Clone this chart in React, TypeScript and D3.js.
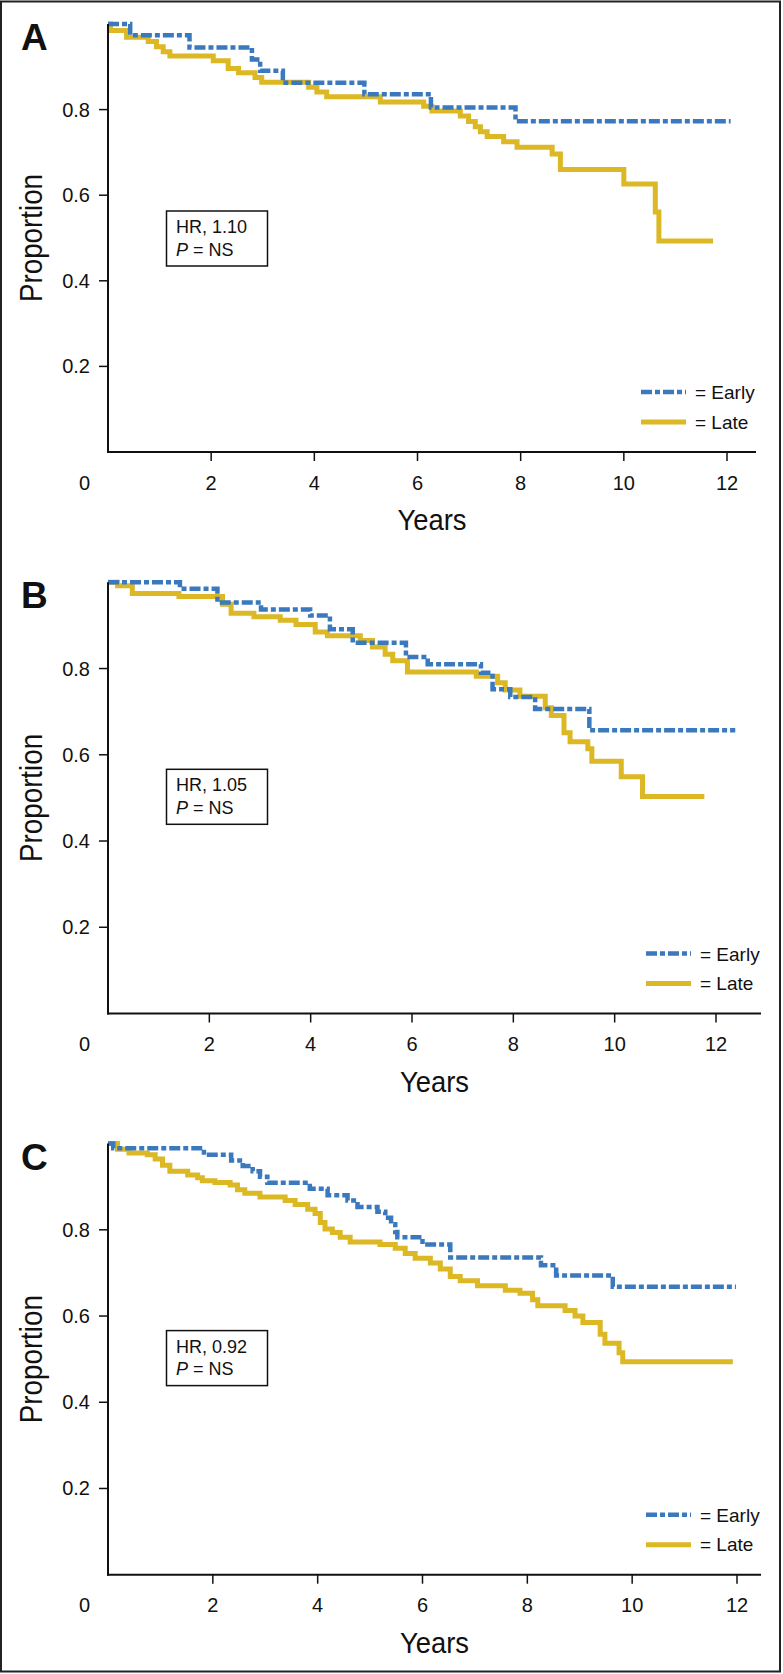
import React from "react";
import * as d3 from "d3";

// ---------- data (Kaplan–Meier step points: [years, proportion]) ----------
const earlyA: [number, number][] = [
  [0, 1], [0.43, 0.974], [1.58, 0.945], [2.79, 0.917], [2.95, 0.891], [3.39, 0.863],
  [4.97, 0.836], [6.26, 0.805], [7.9, 0.773], [12.07, 0.773],
];
const lateA: [number, number][] = [
  [0, 1], [0.05, 0.985], [0.36, 0.969], [0.78, 0.959], [0.94, 0.947], [1.07, 0.935],
  [1.2, 0.925], [2.04, 0.914], [2.33, 0.896], [2.53, 0.886], [2.85, 0.875], [2.98, 0.864],
  [3.89, 0.852], [4.05, 0.841], [4.24, 0.83], [5.28, 0.818], [6.12, 0.808], [6.28, 0.797],
  [6.83, 0.785], [6.99, 0.772], [7.12, 0.76], [7.22, 0.748], [7.35, 0.737], [7.67, 0.725],
  [7.93, 0.712], [8.61, 0.696], [8.77, 0.66], [10.0, 0.626], [10.61, 0.561], [10.68, 0.493],
  [11.73, 0.493],
];
const earlyB: [number, number][] = [
  [0, 1], [1.42, 0.985], [2.16, 0.953], [3.02, 0.937], [3.99, 0.923], [4.38, 0.891],
  [4.83, 0.86], [5.88, 0.827], [6.31, 0.81], [7.36, 0.79], [7.59, 0.752], [7.94, 0.734],
  [8.43, 0.706], [9.5, 0.657], [12.38, 0.657],
];
const lateB: [number, number][] = [
  [0, 1], [0.19, 0.992], [0.48, 0.974], [1.4, 0.967], [2.26, 0.949], [2.43, 0.928],
  [2.88, 0.92], [3.4, 0.912], [3.71, 0.902], [4.09, 0.885], [4.33, 0.876], [4.98, 0.865],
  [5.22, 0.85], [5.47, 0.833], [5.62, 0.818], [5.91, 0.792], [7.27, 0.782], [7.69, 0.767],
  [7.84, 0.75], [8.13, 0.736], [8.63, 0.709], [8.75, 0.691], [9.0, 0.651], [9.12, 0.63],
  [9.47, 0.614], [9.55, 0.585], [10.13, 0.549], [10.55, 0.503], [11.77, 0.503],
];
const earlyC: [number, number][] = [
  [0, 1], [0.1, 0.989], [1.83, 0.974], [2.35, 0.961], [2.57, 0.948], [2.76, 0.936],
  [2.9, 0.923], [3.04, 0.909], [3.85, 0.895], [4.19, 0.88], [4.57, 0.868], [4.76, 0.853],
  [5.14, 0.842], [5.29, 0.828], [5.4, 0.813], [5.48, 0.795], [5.52, 0.783], [6.0, 0.766],
  [6.53, 0.736], [8.26, 0.718], [8.55, 0.694], [9.63, 0.668], [11.98, 0.668],
];
const lateC: [number, number][] = [
  [0, 1], [0.18, 0.987], [0.4, 0.978], [0.75, 0.974], [0.9, 0.964], [1.04, 0.95],
  [1.18, 0.936], [1.52, 0.927], [1.71, 0.921], [1.8, 0.914], [2.04, 0.91], [2.33, 0.904],
  [2.47, 0.893], [2.61, 0.885], [2.9, 0.876], [3.38, 0.868], [3.57, 0.859], [3.81, 0.848],
  [3.95, 0.838], [4.05, 0.817], [4.14, 0.802], [4.28, 0.794], [4.43, 0.783], [4.62, 0.772],
  [5.19, 0.766], [5.48, 0.757], [5.67, 0.745], [5.86, 0.734], [6.15, 0.723], [6.34, 0.709],
  [6.53, 0.692], [6.72, 0.682], [7.05, 0.67], [7.58, 0.66], [7.86, 0.653], [8.1, 0.638],
  [8.2, 0.624], [8.72, 0.613], [8.91, 0.6], [9.06, 0.585], [9.39, 0.558], [9.48, 0.537],
  [9.75, 0.515], [9.82, 0.494], [11.92, 0.494],
];

const xTicks = [2, 4, 6, 8, 10, 12];
const yTicks = [0.2, 0.4, 0.6, 0.8];
const hrLabels = ["HR, 1.10", "HR, 1.05", "HR, 0.92"];
const panelLetters = ["A", "B", "C"];
const seriesNames = ["= Early", "= Late"];

// ---------- layout ----------
const W = 783;
const H = 1674;
const BLUE = "#3a79bd";
const YELLOW = "#dcb824";
const FONT = "'Liberation Sans', Arial, Helvetica, sans-serif";

const panels = [
  { x0: 108, x12: 727, xEnd: 756, yTop: 24, yBottom: 452, early: earlyA, late: lateA },
  { x0: 108, x12: 716, xEnd: 761, yTop: 582.3, yBottom: 1013.5, early: earlyB, late: lateB },
  { x0: 108, x12: 737, xEnd: 761, yTop: 1143.6, yBottom: 1574.7, early: earlyC, late: lateC },
];

function Panel({ idx }: { idx: number }) {
  const p = panels[idx];
  const x = d3.scaleLinear().domain([0, 12]).range([p.x0, p.x12]);
  const y = d3.scaleLinear().domain([0, 1]).range([p.yBottom, p.yTop]);
  const line = d3
    .line<[number, number]>()
    .x((d) => x(d[0]))
    .y((d) => y(d[1]))
    .curve(d3.curveStepAfter);
  const boxTop = p.yTop + 187;
  const midX = (p.x0 + p.xEnd) / 2;
  const midY = (p.yTop + p.yBottom) / 2;
  const legX = p.xEnd - 115;
  return (
    <g>
      {/* panel letter */}
      <text x={21} y={p.yTop + 26} fontFamily={FONT} fontWeight="bold" fontSize={37} fill="#111">
        {panelLetters[idx]}
      </text>
      {/* curves */}
      <path d={line(p.late) || ""} fill="none" stroke={YELLOW} strokeWidth={5} />
      <path
        d={line(p.early) || ""}
        fill="none"
        stroke={BLUE}
        strokeWidth={4.5}
        strokeDasharray="11,3,5,3"
      />
      {/* axes */}
      <line x1={p.x0} x2={p.x0} y1={y(1)} y2={p.yBottom + 1} stroke="#111" strokeWidth={2} />
      <line x1={p.x0 - 1} x2={p.xEnd} y1={p.yBottom} y2={p.yBottom} stroke="#111" strokeWidth={2} />
      {yTicks.map((t) => (
        <g key={"y" + t}>
          <line x1={p.x0 - 9} x2={p.x0} y1={y(t)} y2={y(t)} stroke="#111" strokeWidth={1.5} />
          <text x={90} y={y(t) + 7} textAnchor="end" fontFamily={FONT} fontSize={20} fill="#111">
            {t.toFixed(1)}
          </text>
        </g>
      ))}
      {xTicks.map((t) => (
        <g key={"x" + t}>
          <line x1={x(t)} x2={x(t)} y1={p.yBottom} y2={p.yBottom + 9} stroke="#111" strokeWidth={1.5} />
          <text x={x(t)} y={p.yBottom + 37.5} textAnchor="middle" fontFamily={FONT} fontSize={20} fill="#111">
            {t}
          </text>
        </g>
      ))}
      <text x={84.5} y={p.yBottom + 37.5} textAnchor="middle" fontFamily={FONT} fontSize={20} fill="#111">
        0
      </text>
      {/* axis titles */}
      <text
        x={midX}
        y={p.yBottom + 78}
        textAnchor="middle"
        fontFamily={FONT}
        fontSize={30}
        textLength={69}
        lengthAdjust="spacingAndGlyphs"
        fill="#111"
      >
        Years
      </text>
      <text
        transform={`translate(42,${midY}) rotate(-90)`}
        textAnchor="middle"
        fontFamily={FONT}
        fontSize={31}
        textLength={128}
        lengthAdjust="spacingAndGlyphs"
        fill="#111"
      >
        Proportion
      </text>
      {/* HR box */}
      <rect x={166.5} y={boxTop} width={101} height={55} fill="#fff" stroke="#111" strokeWidth={1.5} />
      <text x={176} y={boxTop + 22} fontFamily={FONT} fontSize={18} fill="#111">
        {hrLabels[idx]}
      </text>
      <text x={176} y={boxTop + 44.5} fontFamily={FONT} fontSize={18} fill="#111">
        <tspan fontStyle="italic">P</tspan>
        <tspan> = NS</tspan>
      </text>
      {/* legend */}
      <line
        x1={legX}
        x2={legX + 45}
        y1={p.yBottom - 60}
        y2={p.yBottom - 60}
        stroke={BLUE}
        strokeWidth={4.5}
        strokeDasharray="11,3,5,3"
      />
      <text x={legX + 54} y={p.yBottom - 53} fontFamily={FONT} fontSize={19} fill="#111">
        {seriesNames[0]}
      </text>
      <line x1={legX} x2={legX + 45} y1={p.yBottom - 30} y2={p.yBottom - 30} stroke={YELLOW} strokeWidth={5} />
      <text x={legX + 54} y={p.yBottom - 23.5} fontFamily={FONT} fontSize={19} fill="#111">
        {seriesNames[1]}
      </text>
    </g>
  );
}

export default function App() {
  return (
    <svg
      width={W}
      height={H}
      viewBox={`0 0 ${W} ${H}`}
      style={{ position: "absolute", left: 0, top: 0, background: "#fff" }}
    >
      <rect x={0} y={0} width={W} height={H} fill="#fff" />
      <rect x={1} y={1.5} width={779} height={1670} fill="none" stroke="#222" strokeWidth={2} />
      {panels.map((_, i) => (
        <Panel key={i} idx={i} />
      ))}
    </svg>
  );
}
